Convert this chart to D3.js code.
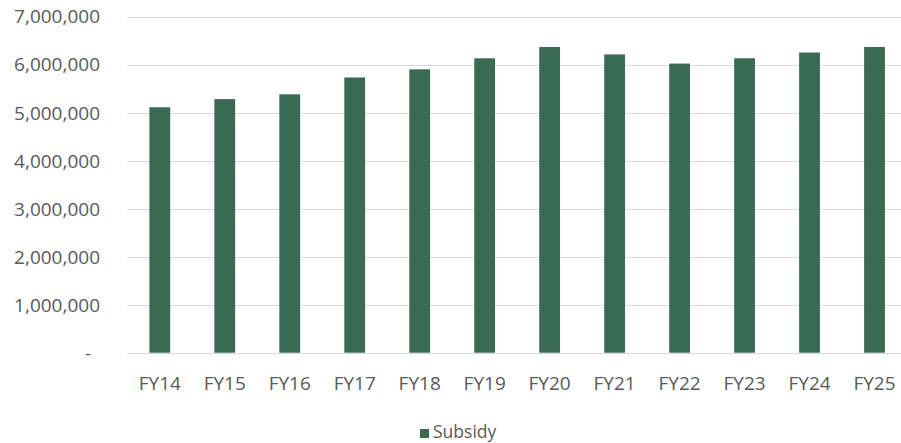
<!DOCTYPE html>
<html>
<head>
<meta charset="utf-8">
<script src="https://cdn.jsdelivr.net/npm/d3@7"></script>
<style>
  html, body { margin: 0; padding: 0; background: #ffffff; }
  svg { display: block; }
  text { font-family: "Open Sans", "Liberation Sans", sans-serif; fill: #595959; }
</style>
</head>
<body>
<div id="chart"></div>
<script>
// Annual subsidy by fiscal year
const categories = ["FY14", "FY15", "FY16", "FY17", "FY18", "FY19", "FY20", "FY21", "FY22", "FY23", "FY24", "FY25"];
const subsidy = [5110000, 5280000, 5380000, 5730000, 5900000, 6130000, 6365000, 6210000, 6020000, 6130000, 6250000, 6365000];
const yTicks = [0, 1000000, 2000000, 3000000, 4000000, 5000000, 6000000, 7000000];
const seriesName = "Subsidy";

const width = 901, height = 443;
const margin = { left: 127.3, right: -6, top: 16.5, bottom: 90.3 };
const barColor = "#3a6a52";
const gridColor = "#d9d9d9";

const svg = d3.select("#chart").append("svg")
  .attr("width", width)
  .attr("height", height);

const x = d3.scaleBand()
  .domain(categories)
  .range([margin.left, width - margin.right])
  .paddingInner(0.68)
  .paddingOuter(0.34);

const y = d3.scaleLinear()
  .domain([0, 7000000])
  .range([height - margin.bottom, margin.top]);

// Horizontal gridlines
svg.append("g")
  .selectAll("line")
  .data(yTicks)
  .join("line")
  .attr("x1", margin.left)
  .attr("x2", width - margin.right)
  .attr("y1", d => Math.round(y(d)) + 0.5)
  .attr("y2", d => Math.round(y(d)) + 0.5)
  .attr("stroke", gridColor)
  .attr("stroke-width", 1.2);

// Y axis labels (accounting style, zero shown as a dash)
const fmt = d3.format(",");
const yAxis = d3.axisLeft(y)
  .tickValues(yTicks)
  .tickFormat(d => d === 0 ? "-" : fmt(d))
  .tickSize(0)
  .tickPadding(0);

const yg = svg.append("g")
  .attr("transform", "translate(100,0)")
  .call(yAxis);
yg.select(".domain").remove();
yg.selectAll("text")
  .attr("font-size", 19)
  .attr("font-family", "Open Sans")
  .attr("fill", "#595959")
  .attr("dy", "0.34em")
  .attr("dx", d => d === 0 ? -9 : 0);

// Bars
svg.append("g")
  .selectAll("rect")
  .data(categories)
  .join("rect")
  .attr("x", d => x(d))
  .attr("width", x.bandwidth())
  .attr("y", (d, i) => y(subsidy[i]))
  .attr("height", (d, i) => y(0) - y(subsidy[i]))
  .attr("fill", barColor);

// X axis labels
const xAxis = d3.axisBottom(x).tickSize(0).tickPadding(0);
const xg = svg.append("g")
  .attr("transform", `translate(0,${y(0)})`)
  .call(xAxis);
xg.select(".domain").remove();
xg.selectAll("text")
  .attr("font-size", 19)
  .attr("font-family", "Open Sans")
  .attr("fill", "#595959")
  .attr("dy", 0)
  .attr("y", 37);

// Legend
const legend = svg.append("g").attr("transform", "translate(420,429)");
legend.append("rect")
  .attr("width", 9)
  .attr("height", 9)
  .attr("fill", barColor);
legend.append("text")
  .attr("x", 13)
  .attr("y", 9)
  .attr("font-size", 17.5)
  .text(seriesName);
</script>
</body>
</html>
